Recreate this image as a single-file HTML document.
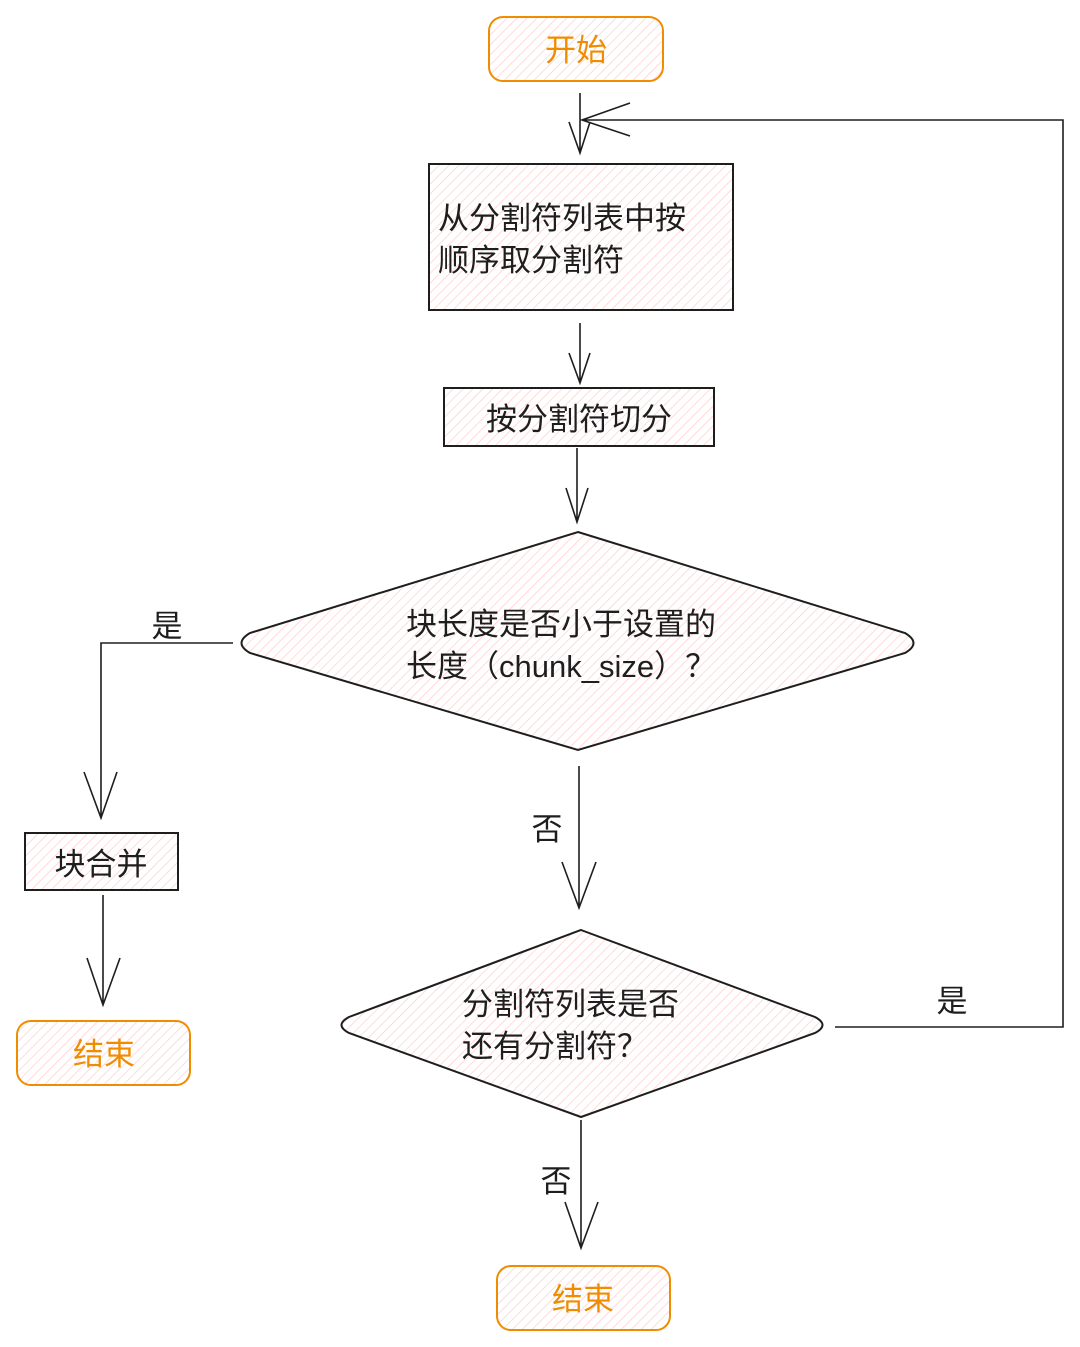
<!DOCTYPE html>
<html><head><meta charset="utf-8"><style>
html,body{margin:0;padding:0;background:#fff;}
svg{display:block;}
text{font-family:"Liberation Sans","Noto Sans CJK SC",sans-serif;font-size:31px;fill:#1e1e1e;}
.o{fill:#f08c00;}
</style></head><body>
<svg width="1080" height="1347" viewBox="0 0 1080 1347" xmlns="http://www.w3.org/2000/svg">
<defs>
<pattern id="h" patternUnits="userSpaceOnUse" width="7" height="7" patternTransform="rotate(45)">
<line x1="0" y1="0" x2="0" y2="7" stroke="#ffc9c9" stroke-width="1.3"/>
</pattern>
</defs>
<g fill="url(#h)" stroke-width="2">
<rect x="489" y="17" width="174" height="64" rx="14" stroke="#f08c00"/>
<rect x="429" y="164" width="304" height="146" stroke="#1e1e1e"/>
<rect x="444" y="388" width="270" height="58" stroke="#1e1e1e"/>
<path d="M578 532 L905 633 Q922 643 905 653 L578 750 L250 653 Q233 643 250 633 Z" stroke="#1e1e1e"/>
<rect x="25" y="833" width="153" height="57" stroke="#1e1e1e"/>
<rect x="17" y="1021" width="173" height="64" rx="14" stroke="#f08c00"/>
<path d="M581 930 L815 1017 Q830 1025 815 1033 L581 1117 L349 1033 Q334 1025 349 1017 Z" stroke="#1e1e1e"/>
<rect x="497" y="1266" width="173" height="64" rx="14" stroke="#f08c00"/>
</g>
<g stroke="#1e1e1e" stroke-width="1.6" fill="none">
<path d="M580 93 V153 M569 122 L580 153 L590 122"/>
<path d="M835 1027 H1063 V120 H582 M630 103 L582 120 L630 136"/>
<path d="M580 323 V383 M569 353 L580 383 L590 353"/>
<path d="M577 448 V522 M566 488 L577 522 L588 488"/>
<path d="M233 643 H101 V818 M84 772 L101 818 L117 772"/>
<path d="M103 895 V1005 M87 958 L103 1005 L120 958"/>
<path d="M579 766 V908 M562 862 L579 908 L596 862"/>
<path d="M581 1120 V1248 M565 1202 L581 1248 L598 1202"/>
</g>
<text class="o" x="576" y="61" text-anchor="middle">开始</text>
<text x="438" y="229">从分割符列表中按</text>
<text x="438" y="271">顺序取分割符</text>
<text x="579" y="430" text-anchor="middle">按分割符切分</text>
<text x="406" y="635">块长度是否小于设置的</text>
<text x="406" y="677">长度（chunk_size）？</text>
<text x="167" y="637" text-anchor="middle">是</text>
<text x="101" y="875" text-anchor="middle">块合并</text>
<text class="o" x="104" y="1065" text-anchor="middle">结束</text>
<text x="547" y="840" text-anchor="middle">否</text>
<text x="462" y="1015">分割符列表是否</text>
<text x="462" y="1057">还有分割符？</text>
<text x="952" y="1012" text-anchor="middle">是</text>
<text x="556" y="1192" text-anchor="middle">否</text>
<text class="o" x="583" y="1310" text-anchor="middle">结束</text>
</svg>
</body></html>
